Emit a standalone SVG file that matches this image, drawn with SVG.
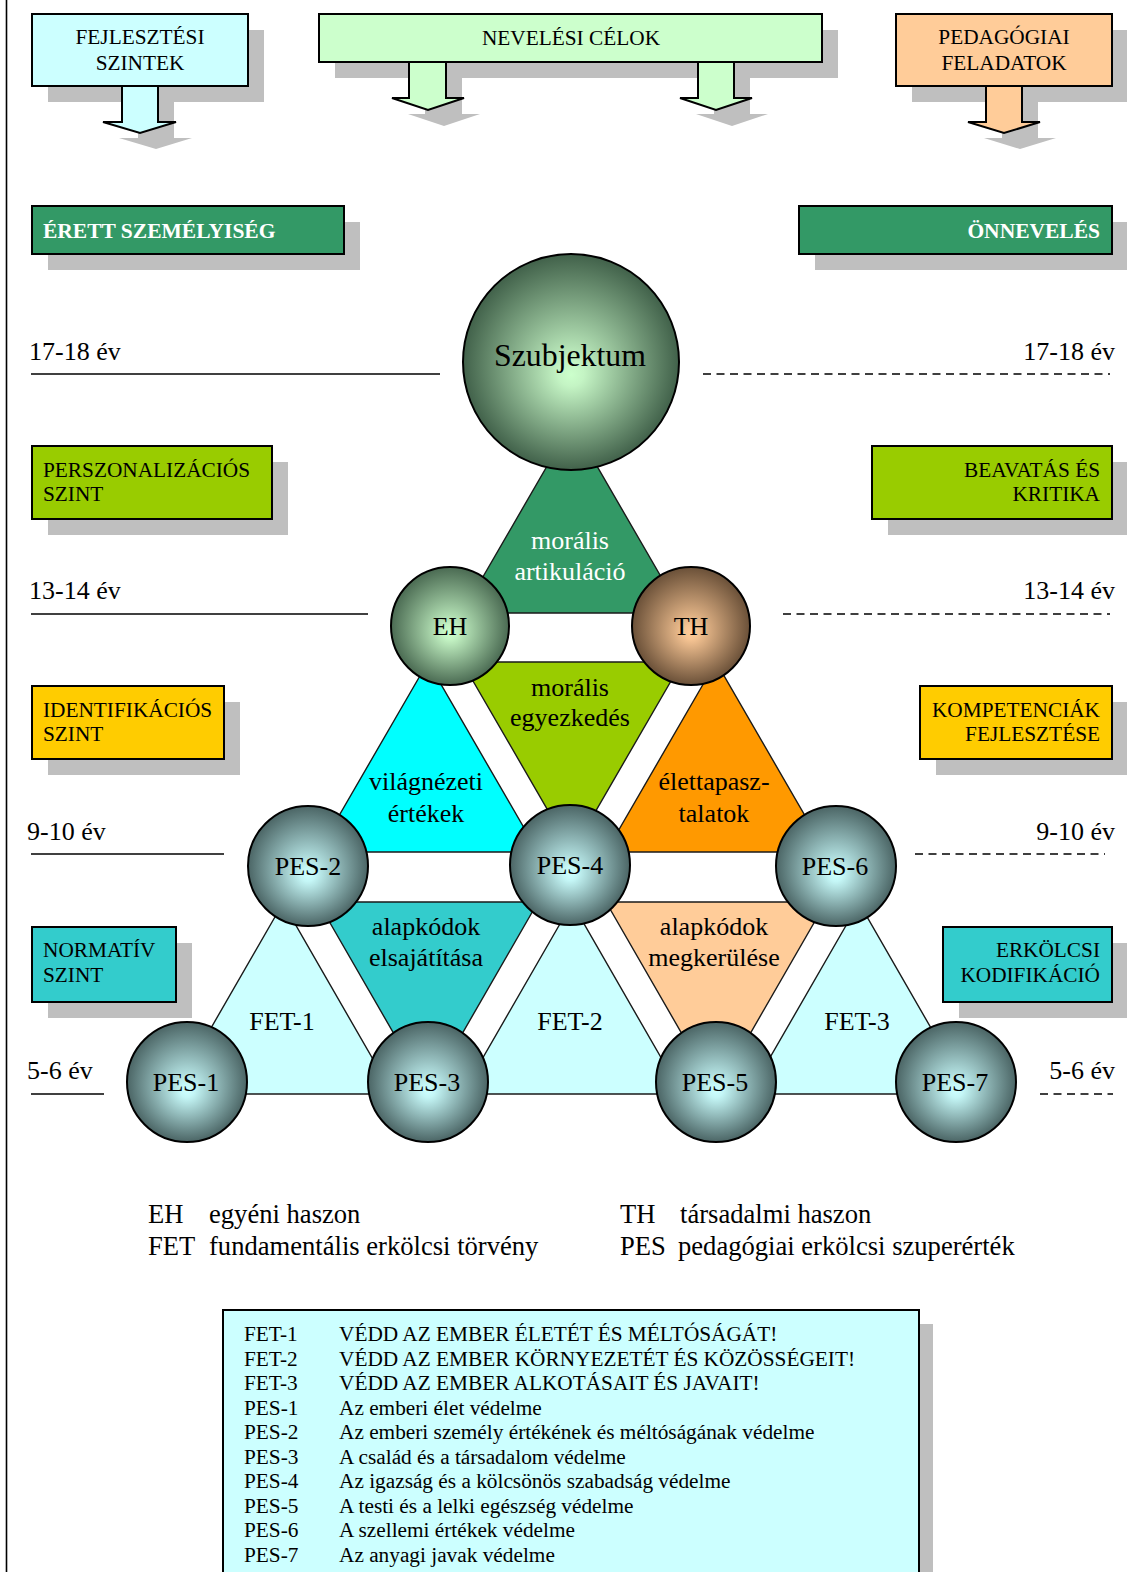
<svg xmlns="http://www.w3.org/2000/svg" width="1127" height="1572" viewBox="0 0 1127 1572">
  <defs>
    <radialGradient id="gSubj" cx="50%" cy="50%" r="50%" fx="50%" fy="56%">
      <stop offset="0" stop-color="#CCFFCC"/>
      <stop offset="0.12" stop-color="#C4F4C4"/>
      <stop offset="1" stop-color="#41614A"/>
    </radialGradient>
    <radialGradient id="gEH" cx="50%" cy="50%" r="50%" fx="50%" fy="56%">
      <stop offset="0" stop-color="#CCFFCC"/>
      <stop offset="0.12" stop-color="#C4F4C4"/>
      <stop offset="1" stop-color="#4A6A52"/>
    </radialGradient>
    <radialGradient id="gTH" cx="50%" cy="50%" r="50%" fx="50%" fy="56%">
      <stop offset="0" stop-color="#FFCC99"/>
      <stop offset="0.12" stop-color="#F6C493"/>
      <stop offset="1" stop-color="#6A5038"/>
    </radialGradient>
    <radialGradient id="gPES" cx="50%" cy="50%" r="50%" fx="50%" fy="58%">
      <stop offset="0" stop-color="#CCFFFF"/>
      <stop offset="0.12" stop-color="#C4F6F6"/>
      <stop offset="1" stop-color="#4B6565"/>
    </radialGradient>
  </defs>
  <style>
    text { font-family: "Liberation Serif", "Times New Roman", serif; fill: #000; }
    .box { stroke: #000; stroke-width: 2; }
    .shadow { fill: #BFBFBF; }
    .lbl { font-size: 21.3px; }
    .lblw { font-size: 21.5px; font-weight: bold; fill: #fff; }
    .age { font-size: 26px; }
    .ln { stroke: #000; stroke-width: 1.5; fill: none; }
    .dash { stroke: #000; stroke-width: 1.5; fill: none; stroke-dasharray: 8 5.5; }
    .tri { stroke: #1a1a1a; stroke-width: 1.4; }
    .sph { stroke: #000; stroke-width: 2; }
    .big { font-size: 26px; text-anchor: middle; }
    .leg { font-size: 26.6px; }
    .code { font-size: 21.3px; }
    .mid { text-anchor: middle; }
    .end { text-anchor: end; }
  </style>

  <rect width="1127" height="1572" fill="#fff"/>
  <!-- page margin rule -->
  <line x1="6.5" y1="0" x2="6.5" y2="1572" stroke="#000" stroke-width="1.6"/>

  <!-- drop shadows -->
  <g id="shadows" class="shadow">
    <rect x="48" y="30" width="216" height="72"/>
    <polygon points="138,102 174,102 174,138 192,138 156,149 119,138 138,138"/>
    <rect x="335" y="30" width="503" height="48"/>
    <polygon points="425,78 462,78 462,114 480,114 444,126 408,114 425,114"/>
    <polygon points="714,78 750,78 750,114 768,114 732,126 696,114 714,114"/>
    <rect x="912" y="30" width="216" height="72"/>
    <polygon points="1002,102 1038,102 1038,138 1056,138 1020,149 984,138 1002,138"/>
    <rect x="48" y="222" width="312" height="48"/>
    <rect x="815" y="222" width="313" height="48"/>
    <rect x="48" y="462" width="240" height="73"/>
    <rect x="888" y="462" width="240" height="73"/>
    <rect x="48" y="702" width="192" height="73"/>
    <rect x="936" y="702" width="192" height="73"/>
    <rect x="48" y="943" width="144" height="75"/>
    <rect x="959" y="943" width="169" height="75"/>
    <rect x="237" y="1324" width="696" height="260"/>
  </g>

  <!-- heading boxes with arrows -->
  <g id="fejlesztesi-szintek">
    <rect class="box" x="32" y="14" width="216" height="72" fill="#CCFFFF"/>
    <polygon class="box" points="122,86 158,86 158,122 176,122 140,133 103,122 122,122" fill="#CCFFFF" stroke-width="1.6"/>
    <text class="lbl mid" x="140" y="44">FEJLESZTÉSI</text>
    <text class="lbl mid" x="140" y="70">SZINTEK</text>
  </g>
  <g id="nevelesi-celok">
    <rect class="box" x="319" y="14" width="503" height="48" fill="#CCFFCC"/>
    <polygon class="box" points="409,62 446,62 446,98 464,98 428,110 392,98 409,98" fill="#CCFFCC" stroke-width="1.6"/>
    <polygon class="box" points="698,62 734,62 734,98 752,98 716,110 680,98 698,98" fill="#CCFFCC" stroke-width="1.6"/>
    <text class="lbl mid" x="571" y="45">NEVELÉSI CÉLOK</text>
  </g>
  <g id="pedagogiai-feladatok">
    <rect class="box" x="896" y="14" width="216" height="72" fill="#FFCC99"/>
    <polygon class="box" points="986,86 1022,86 1022,122 1040,122 1004,133 968,122 986,122" fill="#FFCC99" stroke-width="1.6"/>
    <text class="lbl mid" x="1004" y="44">PEDAGÓGIAI</text>
    <text class="lbl mid" x="1004" y="70">FELADATOK</text>
  </g>

  <!-- level boxes, left column -->
  <g id="erett-szemelyiseg">
    <rect class="box" x="32" y="206" width="312" height="48" fill="#339966"/>
    <text class="lblw" x="43" y="238">ÉRETT SZEMÉLYISÉG</text>
  </g>
  <g id="perszonalizacios-szint">
    <rect class="box" x="32" y="446" width="240" height="73" fill="#99CC00"/>
    <text class="lbl" x="43" y="477">PERSZONALIZÁCIÓS</text>
    <text class="lbl" x="43" y="501">SZINT</text>
  </g>
  <g id="identifikacios-szint">
    <rect class="box" x="32" y="686" width="192" height="73" fill="#FFCC00"/>
    <text class="lbl" x="43" y="717">IDENTIFIKÁCIÓS</text>
    <text class="lbl" x="43" y="741">SZINT</text>
  </g>
  <g id="normativ-szint">
    <rect class="box" x="32" y="927" width="144" height="75" fill="#33CCCC"/>
    <text class="lbl" x="43" y="957">NORMATÍV</text>
    <text class="lbl" x="43" y="982">SZINT</text>
  </g>

  <!-- level boxes, right column -->
  <g id="onneveles">
    <rect class="box" x="799" y="206" width="313" height="48" fill="#339966"/>
    <text class="lblw end" x="1100" y="238">ÖNNEVELÉS</text>
  </g>
  <g id="beavatas-es-kritika">
    <rect class="box" x="872" y="446" width="240" height="73" fill="#99CC00"/>
    <text class="lbl end" x="1100" y="477">BEAVATÁS ÉS</text>
    <text class="lbl end" x="1100" y="501">KRITIKA</text>
  </g>
  <g id="kompetenciak-fejlesztese">
    <rect class="box" x="920" y="686" width="192" height="73" fill="#FFCC00"/>
    <text class="lbl end" x="1100" y="717">KOMPETENCIÁK</text>
    <text class="lbl end" x="1100" y="741">FEJLESZTÉSE</text>
  </g>
  <g id="erkolcsi-kodifikacio">
    <rect class="box" x="943" y="927" width="169" height="75" fill="#33CCCC"/>
    <text class="lbl end" x="1100" y="957">ERKÖLCSI</text>
    <text class="lbl end" x="1100" y="982">KODIFIKÁCIÓ</text>
  </g>

  <!-- age scale -->
  <g id="age-scale">
    <text class="age" x="29" y="360">17-18 év</text>
    <line class="ln" x1="31" y1="374" x2="440" y2="374"/>
    <text class="age end" x="1115" y="360">17-18 év</text>
    <line class="dash" x1="703" y1="374" x2="1110" y2="374"/>

    <text class="age" x="29" y="599">13-14 év</text>
    <line class="ln" x1="31" y1="614" x2="368" y2="614"/>
    <text class="age end" x="1115" y="599">13-14 év</text>
    <line class="dash" x1="783" y1="614" x2="1110" y2="614"/>

    <text class="age" x="27" y="840">9-10 év</text>
    <line class="ln" x1="31" y1="854" x2="224" y2="854"/>
    <text class="age end" x="1115" y="840">9-10 év</text>
    <line class="dash" x1="915" y1="854" x2="1105" y2="854"/>

    <text class="age" x="27" y="1079">5-6 év</text>
    <line class="ln" x1="31" y1="1094" x2="104" y2="1094"/>
    <text class="age end" x="1115" y="1079">5-6 év</text>
    <line class="dash" x1="1040" y1="1094" x2="1113" y2="1094"/>
  </g>

  <!-- triangular fields between the values -->
  <g id="fields">
    <g id="moralis-artikulacio">
      <polygon class="tri" points="572,423 462,613 682,613" fill="#339966"/>
      <text class="big" x="570" y="549" style="fill:#fff">morális</text>
      <text class="big" x="570" y="580" style="fill:#fff">artikuláció</text>
    </g>
    <g id="vilagnezeti-ertekek">
      <polygon class="tri" points="428,662 318,852 538,852" fill="#00FFFF"/>
      <text class="big" x="426" y="790">világnézeti</text>
      <text class="big" x="426" y="822">értékek</text>
    </g>
    <g id="moralis-egyezkedes">
      <polygon class="tri" points="462,662 682,662 572,852" fill="#99CC00"/>
      <text class="big" x="570" y="696">morális</text>
      <text class="big" x="570" y="726">egyezkedés</text>
    </g>
    <g id="elettapasztalatok">
      <polygon class="tri" points="716,662 606,852 826,852" fill="#FF9900"/>
      <text class="big" x="714" y="790">élettapasz-</text>
      <text class="big" x="714" y="822">talatok</text>
    </g>
    <g id="fet-1">
      <polygon class="tri" points="283,903 173,1094 393,1094" fill="#CCFFFF"/>
      <text class="big" x="282" y="1030">FET-1</text>
    </g>
    <g id="alapkodok-elsajatitasa">
      <polygon class="tri" points="318,902 538,902 428,1093" fill="#33CCCC"/>
      <text class="big" x="426" y="935">alapkódok</text>
      <text class="big" x="426" y="966">elsajátítása</text>
    </g>
    <g id="fet-2">
      <polygon class="tri" points="572,903 462,1094 682,1094" fill="#CCFFFF"/>
      <text class="big" x="570" y="1030">FET-2</text>
    </g>
    <g id="alapkodok-megkerulese">
      <polygon class="tri" points="606,902 826,902 716,1093" fill="#FFCC99"/>
      <text class="big" x="714" y="935">alapkódok</text>
      <text class="big" x="714" y="966">megkerülése</text>
    </g>
    <g id="fet-3">
      <polygon class="tri" points="859,903 749,1094 969,1094" fill="#CCFFFF"/>
      <text class="big" x="857" y="1030">FET-3</text>
    </g>
  </g>

  <!-- value spheres -->
  <g id="szubjektum">
    <circle class="sph" cx="571" cy="362" r="108" fill="url(#gSubj)"/>
    <text x="570" y="366" font-size="31.8" text-anchor="middle">Szubjektum</text>
  </g>
  <g id="eh">
    <circle class="sph" cx="450" cy="626" r="59" fill="url(#gEH)"/>
    <text class="big" x="450" y="635">EH</text>
  </g>
  <g id="th">
    <circle class="sph" cx="691" cy="626" r="59" fill="url(#gTH)"/>
    <text class="big" x="691" y="635">TH</text>
  </g>
  <g id="pes-2">
    <circle class="sph" cx="308" cy="866" r="60" fill="url(#gPES)"/>
    <text class="big" x="308" y="875">PES-2</text>
  </g>
  <g id="pes-4">
    <circle class="sph" cx="570" cy="865" r="60" fill="url(#gPES)"/>
    <text class="big" x="570" y="874">PES-4</text>
  </g>
  <g id="pes-6">
    <circle class="sph" cx="836" cy="866" r="60" fill="url(#gPES)"/>
    <text class="big" x="835" y="875">PES-6</text>
  </g>
  <g id="pes-1">
    <circle class="sph" cx="187" cy="1082" r="60" fill="url(#gPES)"/>
    <text class="big" x="186" y="1091">PES-1</text>
  </g>
  <g id="pes-3">
    <circle class="sph" cx="428" cy="1082" r="60" fill="url(#gPES)"/>
    <text class="big" x="427" y="1091">PES-3</text>
  </g>
  <g id="pes-5">
    <circle class="sph" cx="716" cy="1082" r="60" fill="url(#gPES)"/>
    <text class="big" x="715" y="1091">PES-5</text>
  </g>
  <g id="pes-7">
    <circle class="sph" cx="956" cy="1082" r="60" fill="url(#gPES)"/>
    <text class="big" x="955" y="1091">PES-7</text>
  </g>

  <!-- abbreviation key -->
  <g id="abbreviations">
    <text class="leg" x="148" y="1223">EH</text>
    <text class="leg" x="209" y="1223">egyéni haszon</text>
    <text class="leg" x="148" y="1255">FET</text>
    <text class="leg" x="209" y="1255">fundamentális erkölcsi törvény</text>
    <text class="leg" x="620" y="1223">TH</text>
    <text class="leg" x="680" y="1223">társadalmi haszon</text>
    <text class="leg" x="620" y="1255">PES</text>
    <text class="leg" x="678" y="1255">pedagógiai erkölcsi szuperérték</text>
  </g>

  <!-- code table -->
  <g id="code-table">
    <rect class="box" x="223" y="1310" width="696" height="270" fill="#CCFFFF"/>
    <g class="code">
      <text x="244" y="1341">FET-1</text><text x="339" y="1341">VÉDD AZ EMBER ÉLETÉT ÉS MÉLTÓSÁGÁT!</text>
      <text x="244" y="1365.5">FET-2</text><text x="339" y="1365.5">VÉDD AZ EMBER KÖRNYEZETÉT ÉS KÖZÖSSÉGEIT!</text>
      <text x="244" y="1390">FET-3</text><text x="339" y="1390">VÉDD AZ EMBER ALKOTÁSAIT ÉS JAVAIT!</text>
      <text x="244" y="1414.5">PES-1</text><text x="339" y="1414.5">Az emberi élet védelme</text>
      <text x="244" y="1439">PES-2</text><text x="339" y="1439">Az emberi személy értékének és méltóságának védelme</text>
      <text x="244" y="1463.5">PES-3</text><text x="339" y="1463.5">A család és a társadalom védelme</text>
      <text x="244" y="1488">PES-4</text><text x="339" y="1488">Az igazság és a kölcsönös szabadság védelme</text>
      <text x="244" y="1512.5">PES-5</text><text x="339" y="1512.5">A testi és a lelki egészség védelme</text>
      <text x="244" y="1537">PES-6</text><text x="339" y="1537">A szellemi értékek védelme</text>
      <text x="244" y="1561.5">PES-7</text><text x="339" y="1561.5">Az anyagi javak védelme</text>
    </g>
  </g>
</svg>
